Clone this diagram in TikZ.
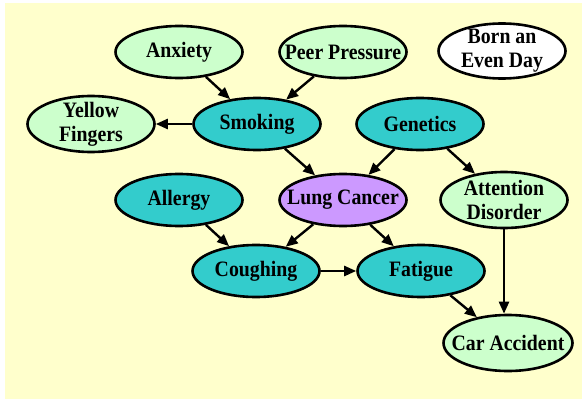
\documentclass[tikz,border=0pt]{standalone}
\usepackage{fontspec}
\setmainfont{Liberation Serif}
\newfontfamily\nodefont{Liberation Serif}[FakeStretch=0.9]
\usepackage{tikz}
\usetikzlibrary{shapes,arrows,arrows.meta,positioning,calc}
\definecolor{paleyellow}{HTML}{FFFFCC}
\definecolor{palegreen}{HTML}{CCFFCC}
\definecolor{darkteal}{HTML}{33CCCC}
\definecolor{lilac}{HTML}{CC99FF}

\tikzset{
  cause/.style={ellipse,draw=black,line width=2.6pt,minimum width=127pt,minimum height=52pt,
    inner xsep=-25pt,inner ysep=-12pt,align=center,font=\nodefont\fontsize{22}{24}\selectfont\bfseries},
  link/.style={line width=2.4pt,-{Triangle[length=12pt,width=10pt]}}
}

\begin{document}
\begin{tikzpicture}[x=1pt,y=1pt]
  % Page and background
  \useasboundingbox (0,0) rectangle (584,400);
  \fill[paleyellow] (5,1) rectangle (582,397);

  % Top row
  \node[cause,fill=palegreen] (anxiety) at (179,348) {Anxiety};
  \node[cause,fill=palegreen] (peer) at (343,348) {Peer Pressure};
  \node[cause,fill=white,minimum height=55pt] (born) at (502,349) {Born an\\Even Day};

  % Second row
  \node[cause,fill=palegreen,minimum height=56pt] (yellow) at (91,276) {Yellow\\Fingers};
  \node[cause,fill=darkteal] (smoking) at (257,276) {Smoking};
  \node[cause,fill=darkteal] (genetics) at (420,276) {Genetics};

  % Third row
  \node[cause,fill=darkteal] (allergy) at (179,200) {Allergy};
  \node[cause,fill=lilac] (lung) at (343,200) {Lung Cancer};
  \node[cause,fill=palegreen,minimum height=56pt] (attention) at (504,200) {Attention\\Disorder};

  % Bottom rows
  \node[cause,fill=darkteal] (coughing) at (256,129) {Coughing};
  \node[cause,fill=darkteal] (fatigue) at (421,129) {Fatigue};
  \node[cause,fill=palegreen,minimum width=129pt,minimum height=56pt] (car) at (508,57) {Car Accident};

  % Arrows
  \draw[link] (anxiety) -- (smoking);
  \draw[link] (peer) -- (smoking);
  \draw[link] (smoking) -- (yellow);
  \draw[link] (smoking) -- (lung);
  \draw[link] (genetics) -- (lung);
  \draw[link] (genetics) -- (attention);
  \draw[link] (allergy) -- (coughing);
  \draw[link] (lung) -- (coughing);
  \draw[link] (lung) -- (fatigue);
  \draw[link] (coughing) -- (fatigue);
  \draw[link] (fatigue) -- (car);
  \draw[link] (attention) -- (attention |- car.north);
\end{tikzpicture}
\end{document}
